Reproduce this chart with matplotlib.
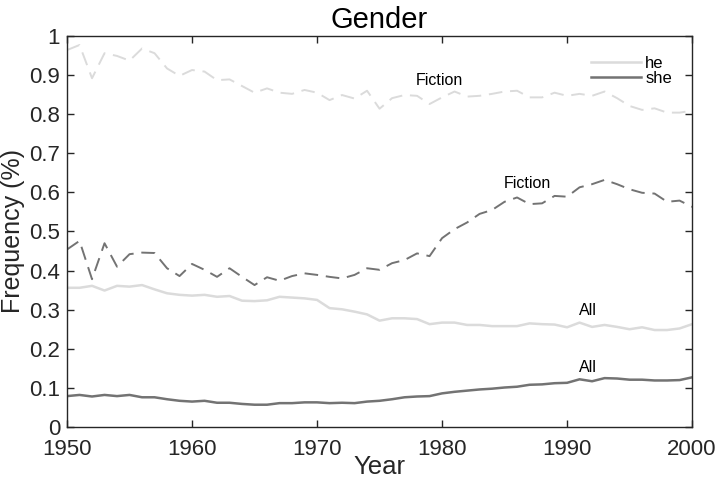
import matplotlib
matplotlib.use('Agg')
import matplotlib.pyplot as plt
import numpy as np

years = np.arange(1950, 2001)

he_fiction = [0.964, 0.977, 0.892, 0.956, 0.949, 0.937, 0.968, 0.956, 0.917, 0.898,
              0.913, 0.909, 0.887, 0.889, 0.872, 0.855, 0.866, 0.855, 0.852, 0.862,
              0.855, 0.836, 0.849, 0.840, 0.860, 0.814, 0.841, 0.849, 0.847, 0.826,
              0.843, 0.858, 0.845, 0.847, 0.852, 0.858, 0.860, 0.843, 0.843, 0.855,
              0.847, 0.852, 0.847, 0.858, 0.841, 0.821, 0.811, 0.815, 0.804, 0.804,
              0.809]
she_fiction = [0.454, 0.476, 0.378, 0.470, 0.410, 0.442, 0.446, 0.445, 0.406, 0.386,
               0.417, 0.402, 0.384, 0.406, 0.384, 0.363, 0.383, 0.374, 0.386, 0.393,
               0.389, 0.384, 0.380, 0.389, 0.406, 0.402, 0.419, 0.427, 0.444, 0.437,
               0.483, 0.506, 0.523, 0.545, 0.555, 0.576, 0.587, 0.570, 0.572, 0.591,
               0.589, 0.613, 0.621, 0.632, 0.621, 0.608, 0.599, 0.597, 0.576, 0.579,
               0.563]
he_all = [0.356, 0.356, 0.361, 0.349, 0.361, 0.359, 0.363, 0.352, 0.342, 0.338,
          0.336, 0.338, 0.333, 0.335, 0.323, 0.322, 0.324, 0.333, 0.331, 0.329,
          0.325, 0.304, 0.301, 0.295, 0.288, 0.272, 0.278, 0.278, 0.276, 0.263,
          0.267, 0.267, 0.261, 0.261, 0.258, 0.258, 0.258, 0.265, 0.263, 0.262,
          0.255, 0.267, 0.256, 0.261, 0.256, 0.250, 0.255, 0.248, 0.248, 0.252,
          0.263]
she_all = [0.079, 0.082, 0.078, 0.082, 0.079, 0.082, 0.076, 0.076, 0.071, 0.067,
           0.065, 0.067, 0.062, 0.062, 0.059, 0.057, 0.057, 0.061, 0.061, 0.063,
           0.063, 0.061, 0.062, 0.061, 0.065, 0.067, 0.071, 0.076, 0.078, 0.079,
           0.086, 0.090, 0.093, 0.096, 0.098, 0.101, 0.103, 0.108, 0.109, 0.112,
           0.113, 0.122, 0.117, 0.125, 0.124, 0.121, 0.121, 0.119, 0.119, 0.120,
           0.127]

# (x, y, text) for the in-plot labels
annotations = [(1979.8, 0.887, 'Fiction'), (1986.8, 0.624, 'Fiction'),
               (1991.7, 0.297, 'All'), (1991.7, 0.153, 'All')]

plt.rcParams['font.family'] = ['Liberation Sans', 'DejaVu Sans']

he_col = (0.86, 0.86, 0.86)
she_col = (0.45, 0.45, 0.45)
ax_col = (0.15, 0.15, 0.15)

fig = plt.figure(figsize=(7.16, 4.78), dpi=100)
ax = fig.add_axes([0.0936, 0.1067, 0.873, 0.818])

ax.plot(years, he_all, '-', color=he_col, lw=1.8, label='he')
ax.plot(years, she_all, '-', color=she_col, lw=1.8, label='she')
ax.plot(years, he_fiction, '--', color=he_col, lw=1.4, dashes=(7, 4))
ax.plot(years, she_fiction, '--', color=she_col, lw=1.4, dashes=(7, 4))

for x, y, t in annotations:
    ax.text(x, y, t, ha='center', va='center', fontsize=11.5, color='black')

ax.set_xlim(1950, 2000)
ax.set_ylim(0, 1)
ax.set_xticks(np.arange(1950, 2001, 10))
ax.set_yticks(np.arange(0, 1.01, 0.1))
ax.set_yticklabels(['0', '0.1', '0.2', '0.3', '0.4', '0.5', '0.6', '0.7', '0.8', '0.9', '1'])

for s in ax.spines.values():
    s.set_color(ax_col)
    s.set_linewidth(1.0)
ax.tick_params(direction='in', length=5, width=1.0, colors=ax_col, labelsize=16,
               top=True, right=True)
ax.tick_params(axis='x', pad=9)
ax.tick_params(axis='y', pad=5)

ax.set_xlabel('Year', fontsize=18.5, color=ax_col, labelpad=-4)
ax.set_ylabel('Frequency (%)', fontsize=18, color=ax_col)
ax.yaxis.set_label_coords(-0.067, 0.5)
ax.set_title('Gender', fontsize=21, color='black', pad=6)

leg = ax.legend(loc='upper right', frameon=False, fontsize=12, handlelength=3.0,
                labelspacing=0.0, handletextpad=0.25, borderaxespad=0.8)

fig.savefig('out.png', dpi=100)
